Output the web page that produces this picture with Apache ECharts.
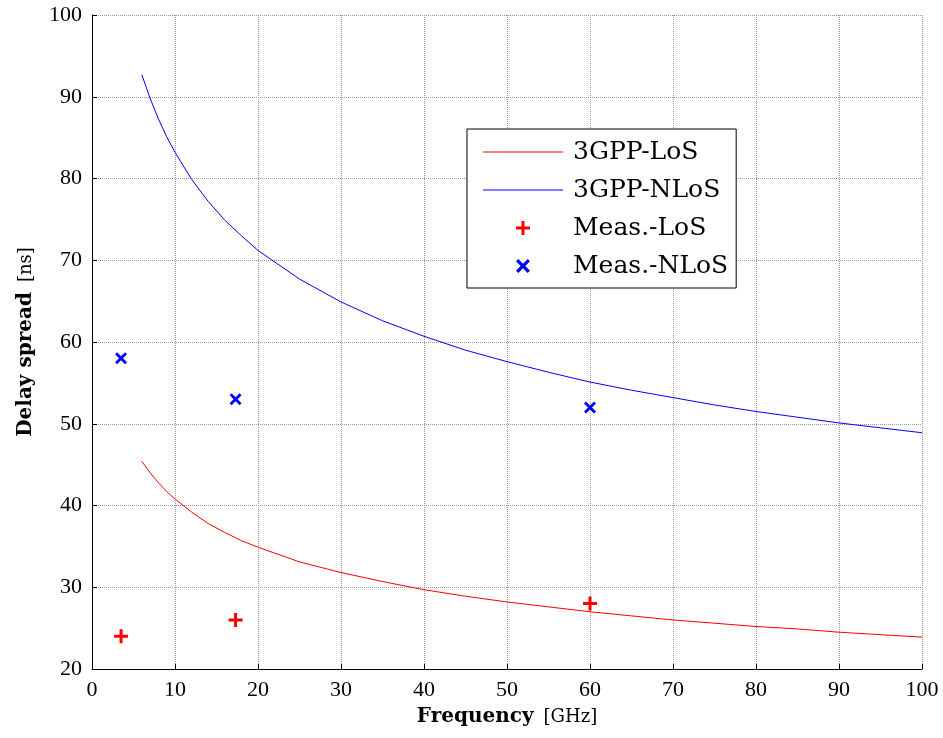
<!DOCTYPE html>
<html>
<head>
<meta charset="utf-8">
<script src="https://cdn.jsdelivr.net/npm/echarts@6/dist/echarts.min.js"></script>
<style>html,body{margin:0;padding:0;background:#fff}#c{width:943px;height:738px}</style>
</head>
<body>
<div id="c"></div>
<script>
// Frequencies (GHz) for the 3GPP model curves
const modelFreq = [6,7,8,9,10,12,14,16,18,20,25,30,35,40,45,50,55,60,65,70,75,80,85,90,95,100];
// 3GPP LoS delay spread (ns)
const losModel = [45.4,44.0,42.8,41.7,40.8,39.2,37.8,36.7,35.7,34.9,33.1,31.8,30.7,29.7,28.9,28.2,27.6,27.0,26.5,26.0,25.6,25.2,24.9,24.5,24.2,23.9];
// 3GPP NLoS delay spread (ns)
const nlosModel = [92.7,89.8,87.3,85.1,83.2,79.9,77.2,74.9,73.0,71.2,67.7,64.9,62.6,60.7,59.0,57.6,56.3,55.1,54.1,53.2,52.3,51.5,50.8,50.1,49.5,48.9];
// Measurement frequencies (GHz)
const measFreq = [3.5, 17.3, 60];
const measLoS = [24, 26, 28];
const measNLoS = [58, 53, 52];
// Axis ticks
const xTicks = {min: 0, max: 100, interval: 10};
const yTicks = {min: 20, max: 100, interval: 10};
const legendNames = ['3GPP-LoS', '3GPP-NLoS', 'Meas.-LoS', 'Meas.-NLoS'];

const plusPath = 'path://M5.5,0 L8.5,0 L8.5,5.5 L14,5.5 L14,8.5 L8.5,8.5 L8.5,14 L5.5,14 L5.5,8.5 L0,8.5 L0,5.5 L5.5,5.5 Z';
const crossPath = 'path://M0,2 L2,0 L6,4 L10,0 L12,2 L8,6 L12,10 L10,12 L6,8 L2,12 L0,10 L4,6 Z';
const lineIcon = 'path://M0,0 L80,0 L80,1 L0,1 Z';

const pair = (xs, ys) => xs.map((x, i) => [x, ys[i]]);

const tickFont = {fontFamily: 'Liberation Serif', fontSize: 22, color: '#000'};
const gridLine = {show: true, lineStyle: {color: '#999999', type: [1, 1], width: 1}};
const nameRich = {
  b: {fontFamily: 'DejaVu Serif', fontWeight: 'bold', fontSize: 20, color: '#000'},
  n: {fontFamily: 'DejaVu Serif', fontSize: 18, color: '#000', padding: [0, 0, 0, 10]}
};

const chart = echarts.init(document.getElementById('c'), null, {renderer: 'canvas'});
chart.setOption({
  animation: false,
  backgroundColor: '#fff',
  grid: {left: 92, right: 21, top: 15, bottom: 69},
  xAxis: {
    type: 'value', min: xTicks.min, max: xTicks.max, interval: xTicks.interval,
    name: '{b|Frequency}{n|[GHz]}', nameLocation: 'middle', nameGap: 38,
    nameTextStyle: {rich: nameRich},
    axisLine: {show: true, onZero: false, lineStyle: {color: '#000', width: 1}},
    axisTick: {show: true, inside: true, length: 5, lineStyle: {color: '#000'}},
    axisLabel: Object.assign({margin: 10}, tickFont),
    splitLine: gridLine
  },
  yAxis: {
    type: 'value', min: yTicks.min, max: yTicks.max, interval: yTicks.interval,
    name: '{b|Delay spread}{n|[ns]}', nameLocation: 'middle', nameGap: 56,
    nameTextStyle: {rich: nameRich},
    axisLine: {show: true, onZero: false, lineStyle: {color: '#000', width: 1}},
    axisTick: {show: true, inside: true, length: 5, lineStyle: {color: '#000'}},
    axisLabel: Object.assign({margin: 10}, tickFont),
    splitLine: gridLine
  },
  legend: {
    orient: 'vertical', left: 467, top: 129,
    padding: [10, 8, 9, 16],
    backgroundColor: '#fff', borderColor: '#000', borderWidth: 1, borderRadius: 0,
    itemWidth: 80, itemHeight: 14, itemGap: 12,
    textStyle: {fontFamily: 'DejaVu Serif', fontSize: 25, color: '#000', lineHeight: 26, padding: [0, 0, 0, 5]},
    data: [
      {name: legendNames[0], icon: lineIcon},
      {name: legendNames[1], icon: lineIcon},
      {name: legendNames[2]},
      {name: legendNames[3]}
    ]
  },
  series: [
    {name: legendNames[0], type: 'line', data: pair(modelFreq, losModel), showSymbol: false, symbol: 'none',
     lineStyle: {color: '#ff0000', width: 1}, itemStyle: {color: '#ff0000'}},
    {name: legendNames[1], type: 'line', data: pair(modelFreq, nlosModel), showSymbol: false, symbol: 'none',
     lineStyle: {color: '#0000ff', width: 1}, itemStyle: {color: '#0000ff'}},
    {name: legendNames[2], type: 'scatter', data: pair(measFreq, measLoS), symbol: plusPath, symbolSize: 14,
     itemStyle: {color: '#ff0000', opacity: 1}},
    {name: legendNames[3], type: 'scatter', data: pair(measFreq, measNLoS), symbol: crossPath, symbolSize: 12,
     itemStyle: {color: '#0000ff', opacity: 1}}
  ]
});
</script>
</body>
</html>
